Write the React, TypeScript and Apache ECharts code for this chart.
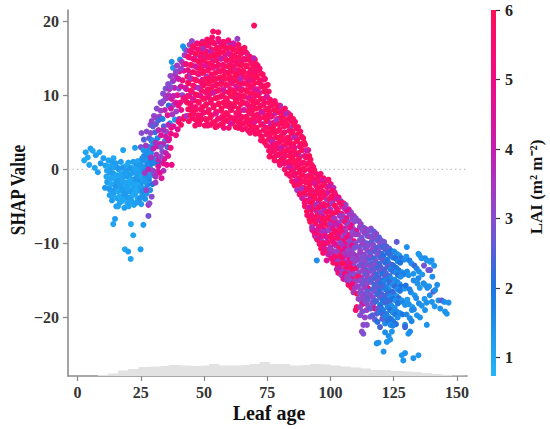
import React, { useEffect, useRef } from 'react';
import * as echarts from 'echarts';

// ---------- axis ticks ----------
const xTicks = [0, 25, 50, 75, 100, 125, 150];
const yTicks = [-20, -10, 0, 10, 20];
const laiTicks = [1, 2, 3, 4, 5, 6];
// colour of LAI = 0,1,2,3,4,5,6
const laiColors = ['#26c0fb', '#20a8f3', '#1c74e0', '#8a4ccf', '#c41daf', '#f00a85', '#ff0f5a'];

// ---------- leaf-age histogram (bin centre, count) ----------
const histCenters = [6, 10, 14, 18, 22, 26, 30, 34, 38, 42, 46, 50, 54, 58, 62, 66, 70, 74, 78, 82, 86, 90, 94, 98, 102, 106, 110, 114, 118, 122, 126, 130, 134, 138, 142, 146, 150, 154];
const histCounts = [0, 5, 12, 28, 35, 45, 48, 50, 55, 52, 50, 52, 60, 52, 52, 55, 60, 70, 60, 60, 52, 55, 60, 58, 52, 48, 42, 38, 30, 30, 25, 22, 20, 15, 10, 6, 2, 0];

// ---------- SHAP points: [leaf age, SHAP value, LAI] ----------
const earlyBlue = [
  [2.6, 1.2, 1.0], [3.2, 2.3, 1.1], [4.0, 1.6, 0.9], [4.6, 0.6, 1.1], [5.1, 2.8, 1.2], [6.0, 2.5, 1.0], [7.2, 1.9, 1.2], [8.6, 2.3, 1.1], [9.1, 0.8, 1.3], [10.2, 1.5, 1.2], [6.8, 0.2, 1.1], [8.0, -0.4, 1.2],
  [11.0, 0.5, 1.2], [11.4, -1.0, 1.0], [10.8, -2.5, 1.3],
  [12.2, 1.2, 1.1], [12.5, -0.3, 1.4], [11.9, -1.8, 1.0], [12.7, -3.5, 1.2],
  [13.1, 0.2, 1.3], [13.4, -1.2, 1.1], [12.9, -2.8, 1.0], [13.6, -4.2, 1.2],
  [14.2, 1.5, 1.0], [14.0, -0.5, 1.2], [14.5, -2.0, 1.1], [14.3, -3.2, 1.3],
  [15.1, 0.8, 1.2], [15.4, -0.8, 1.0], [15.0, -2.3, 1.4], [15.6, -3.9, 1.1], [15.3, -5.0, 1.2],
  [16.2, 0.0, 1.1], [16.5, -1.5, 1.3], [16.0, -2.9, 1.0], [16.7, -4.5, 1.2],
  [17.1, 1.0, 1.2], [17.4, -0.6, 1.0], [17.0, -2.1, 1.1], [17.6, -3.6, 1.3],
  [18.3, 0.3, 1.0], [18.0, -1.1, 1.2], [18.6, -2.6, 1.1], [18.2, -4.0, 1.0], [18.5, -5.2, 1.2], [18.0, 2.6, 1.1],
  [19.2, -0.2, 1.3], [19.5, -1.8, 1.0], [19.0, -3.2, 1.2], [19.7, -4.6, 1.1],
  [20.1, 0.9, 1.1], [20.4, -0.7, 1.2], [20.0, -2.2, 1.0], [20.6, -3.8, 1.3], [20.2, -5.0, 1.1],
  [21.3, 0.2, 1.0], [21.0, -1.3, 1.2], [21.6, -2.7, 1.1], [21.2, -4.2, 1.3],
  [22.4, -0.4, 1.2], [22.1, -1.9, 1.0], [22.7, -3.3, 1.2], [22.3, -4.8, 1.1], [22.7, 2.9, 1.2],
  [23.2, 0.6, 1.3], [23.5, -1.0, 1.1], [23.0, -2.4, 1.2], [23.7, -3.9, 1.0],
  [24.3, 0.0, 1.1], [24.0, -1.5, 1.4], [24.6, -2.9, 1.2], [24.2, -4.4, 1.3],
  [25.1, 1.0, 1.4], [25.4, -0.5, 1.2], [25.0, -2.0, 1.5], [25.6, -3.5, 1.3], [25.2, -4.7, 1.2],
  [26.3, 1.8, 1.6], [26.0, 0.3, 1.3], [26.5, -1.2, 1.5], [26.1, -2.6, 1.2], [26.7, -4.0, 1.4],
  [27.2, 2.4, 1.5], [27.5, 0.9, 1.7], [27.0, -0.6, 1.4], [27.6, -2.1, 1.6], [27.3, -3.3, 1.3],
  [28.4, 3.0, 1.6], [28.1, 1.6, 1.8], [28.6, 0.2, 1.5], [28.2, -1.4, 1.7], [28.7, -2.8, 1.4],
  [29.3, 3.8, 1.7], [29.0, 2.2, 1.6], [29.5, 0.8, 1.8], [29.1, -0.6, 1.5], [29.6, -2.0, 1.9],
  [14.1, -7.4, 1.1], [14.8, -6.7, 1.2], [16.0, -5.0, 1.1], [21.1, -7.4, 1.0], [26.0, -7.5, 1.2], [22.0, -8.9, 1.1],
  [18.7, -10.8, 1.0], [20.0, -11.1, 1.2], [21.0, -12.1, 1.1], [24.9, -10.8, 1.2], [28.0, -6.3, 2.8], [28.0, -4.8, 3.8],
];

const earlyFill = [
  [11.6, -0.2, 1.1], [11.7, -1.7, 1.2], [12.0, 0.4, 1.0], [12.4, -2.6, 1.3], [13.0, -0.5, 1.2], [13.3, -2.0, 1.0], [13.8, -3.5, 1.1], [13.7, 0.9, 1.2],
  [14.6, -1.2, 1.0], [14.8, -2.7, 1.3], [14.7, 0.3, 1.1], [15.7, -1.6, 1.2], [15.8, -3.0, 1.0], [15.9, 0.2, 1.3], [16.8, -0.8, 1.1], [16.9, -2.3, 1.2],
  [16.6, -3.7, 1.0], [17.7, 0.2, 1.3], [17.8, -1.5, 1.1], [17.7, -2.9, 1.2], [17.5, -4.3, 1.0], [18.8, -0.4, 1.2], [18.9, -1.9, 1.1], [18.8, -3.4, 1.3],
  [19.6, 0.6, 1.0], [19.8, -1.0, 1.2], [19.4, -2.5, 1.1], [19.9, -3.9, 1.2], [20.7, 0.1, 1.3], [20.8, -1.5, 1.0], [20.7, -3.0, 1.2], [20.9, -4.4, 1.1],
  [21.7, -0.5, 1.2], [21.8, -2.0, 1.1], [21.8, -3.5, 1.0], [22.0, 1.0, 1.2], [22.9, 0.0, 1.1], [22.8, -1.3, 1.3], [22.9, -2.8, 1.0], [23.3, -4.5, 1.2],
  [23.8, 1.1, 1.1], [23.9, -0.6, 1.2], [23.8, -2.1, 1.0], [24.7, 0.6, 1.3], [24.8, -0.9, 1.1], [24.9, -2.4, 1.2], [24.7, -3.9, 1.4], [25.8, 0.1, 1.3],
  [25.9, -1.5, 1.2], [25.8, -2.9, 1.5], [26.9, 1.3, 1.4], [26.8, -0.2, 1.6], [26.9, -1.7, 1.3], [27.9, 2.2, 1.5], [27.8, 0.5, 1.7], [27.9, -1.0, 1.4],
  [28.9, 2.9, 1.6], [28.9, 1.2, 1.8], [29.8, 1.5, 1.7], [29.9, 3.1, 1.6],
];

const rising = [
  [25.3, 4.9, 3.0], [25.0, 3.0, 2.8], [25.6, 1.5, 1.5],
  [26.2, 4.0, 2.5], [26.5, -0.5, 3.4], [26.0, 2.6, 1.4],
  [27.3, 5.1, 3.0], [27.0, 3.2, 3.5], [27.6, 0.6, 1.6], [27.2, -2.8, 3.2],
  [28.3, 4.2, 2.6], [28.6, 2.0, 1.4], [28.0, 0.0, 3.8], [28.4, -4.6, 3.0], [28.8, 6.0, 3.2],
  [29.3, 6.5, 3.3], [29.6, 3.9, 1.5], [29.0, 1.6, 3.6], [29.4, -0.8, 1.3], [29.3, -3.7, 3.0],
  [30.2, 7.2, 3.1], [30.6, 5.0, 2.2], [30.0, 2.8, 3.9], [30.4, 0.9, 1.7], [30.8, -1.8, 3.4],
  [31.3, 8.2, 3.0], [31.0, 6.1, 2.8], [31.6, 4.2, 1.6], [31.2, 2.0, 3.5], [31.8, -0.3, 4.0],
  [32.4, 7.1, 3.3], [32.0, 5.3, 3.8], [32.6, 3.4, 4.3], [32.2, 1.0, 2.0], [32.8, 9.0, 2.7],
  [33.2, 8.9, 3.2], [33.6, 6.8, 1.8], [33.0, 4.6, 4.5], [33.5, 2.4, 3.0], [33.2, -1.2, 4.4], [33.8, 10.2, 3.0],
  [34.5, 8.0, 4.0], [34.1, 5.8, 2.5], [34.5, 3.8, 1.5], [34.3, 1.4, 4.6], [34.8, 10.9, 2.9],
  [35.2, 9.6, 3.4], [35.6, 7.3, 4.8], [35.0, 5.1, 3.1], [35.5, 3.0, 2.4], [35.3, 0.6, 4.9], [35.8, 11.5, 3.0],
  [36.3, 10.8, 3.6], [36.0, 8.6, 2.2], [36.5, 6.2, 1.4], [36.2, 4.1, 4.5], [36.7, 12.6, 3.2],
  [37.2, 9.5, 4.5], [37.5, 7.4, 3.5], [37.0, 5.6, 5.2], [37.2, 0.6, 5.0], [37.6, 11.9, 2.7], [37.2, 14.5, 1.4],
  [38.3, 11.0, 4.2], [38.0, 8.7, 3.1], [38.5, 6.7, 1.4], [37.7, 13.7, 1.3], [38.6, 12.8, 3.5],
  [39.2, 12.3, 3.8], [39.5, 10.0, 5.0], [39.0, 7.8, 3.3], [39.6, 5.4, 4.7], [39.3, 14.0, 3.4],
  [40.3, 13.2, 4.5], [40.0, 10.9, 3.0], [40.6, 9.0, 5.2], [40.2, 6.8, 4.0], [40.5, 14.8, 1.4],
  [41.2, 14.5, 3.6], [41.5, 12.0, 5.4], [41.0, 8.0, 4.8], [41.7, 16.6, 1.4], [41.4, 10.0, 3.2],
  [42.3, 15.4, 3.4], [42.0, 13.3, 5.0], [42.6, 11.0, 4.2], [42.2, 7.1, 5.5], [42.4, 16.2, 1.5], [42.8, 9.2, 5.6],
  [31.5, 3.1, 4.2], [33.8, 3.4, 3.8], [35.8, 1.8, 4.6], [36.8, 2.9, 5.1], [34.0, -0.2, 3.6], [32.5, -0.5, 4.8], [30.3, -0.6, 3.2],
];

const risingFill = [
  [28.9, 4.9, 3.1], [29.8, 5.8, 2.6], [30.9, 7.0, 3.3], [31.9, 6.6, 2.4], [32.9, 7.9, 3.4], [33.9, 9.2, 3.0], [34.9, 9.8, 3.3], [35.9, 10.0, 3.6],
  [36.9, 11.1, 3.0], [37.9, 12.0, 3.4], [38.9, 13.2, 3.1], [39.9, 12.2, 4.2], [40.9, 13.6, 3.3], [41.9, 14.2, 3.7], [30.9, 3.6, 3.6], [31.9, 1.3, 3.9],
  [32.9, 3.0, 2.9], [33.9, 5.3, 3.6], [34.9, 4.4, 4.2], [35.9, 6.0, 3.8], [36.9, 8.2, 4.3], [37.9, 9.9, 4.0], [38.9, 9.0, 4.6], [39.9, 8.6, 5.1],
  [40.9, 11.2, 4.4], [41.9, 9.6, 5.3], [29.9, -0.2, 3.3], [30.9, -1.0, 3.6], [31.9, 0.4, 4.4], [32.9, 1.7, 3.2], [33.9, 0.8, 4.7], [34.9, 2.2, 4.1],
  [35.9, 3.9, 4.5], [36.9, 4.8, 5.0], [37.9, 5.8, 4.6], [38.9, 4.6, 5.3], [39.9, 6.4, 5.4], [40.9, 6.0, 5.6], [41.9, 6.8, 5.7],
];

const peak = [
  [43.2, 16.0, 3.3], [42.9, 14.2, 5.2], [43.4, 12.5, 5.6], [43.0, 10.8, 4.4], [43.3, 9.0, 5.8], [43.1, 7.2, 3.6],
  [44.1, 15.1, 4.8], [44.4, 13.0, 3.6], [43.8, 11.6, 5.9], [44.2, 9.9, 5.1], [44.5, 8.1, 4.2], [44.0, 6.5, 5.7], [44.3, 16.8, 3.1],
  [45.2, 17.3, 3.2], [44.9, 15.8, 5.5], [45.4, 14.0, 4.0], [45.1, 12.2, 5.8], [45.3, 10.4, 3.8], [44.8, 8.6, 5.3], [45.5, 6.9, 5.9],
  [46.0, 16.4, 4.6], [46.3, 14.8, 5.9], [45.8, 13.1, 5.2], [46.4, 11.1, 4.9], [46.1, 9.3, 5.7], [45.9, 7.5, 4.4], [46.5, 5.9, 5.8],
  [47.2, 17.0, 5.1], [46.8, 15.4, 3.5], [47.4, 13.7, 5.7], [47.0, 12.0, 6.0], [47.3, 10.0, 5.4], [46.9, 8.1, 5.9], [47.5, 6.4, 4.7],
  [48.1, 16.1, 5.6], [48.4, 14.4, 5.0], [47.9, 12.8, 3.7], [48.3, 11.0, 5.8], [48.0, 9.0, 5.2], [48.5, 7.2, 5.9], [48.2, 6.1, 5.5],
  [49.3, 17.2, 4.3], [48.9, 15.6, 5.8], [49.2, 13.9, 5.5], [49.4, 12.1, 4.5], [49.0, 10.6, 5.9], [49.3, 8.4, 6.0], [48.8, 6.8, 5.1],
  [50.1, 16.6, 5.4], [50.4, 15.0, 3.8], [49.9, 13.2, 5.9], [50.2, 11.5, 5.6], [50.5, 9.6, 5.9], [50.0, 7.7, 4.6], [50.3, 5.9, 6.0],
  [51.2, 17.5, 5.7], [50.9, 15.9, 5.2], [51.3, 14.3, 5.9], [51.0, 12.5, 3.5], [51.4, 10.8, 5.7], [50.8, 8.8, 5.4], [51.1, 6.6, 5.9],
  [52.0, 16.9, 3.6], [52.3, 15.2, 5.9], [51.8, 13.6, 5.3], [52.4, 11.9, 5.8], [52.1, 10.1, 5.9], [51.9, 8.0, 5.5], [52.5, 6.0, 5.8],
  [53.2, 17.8, 5.5], [52.9, 16.2, 5.8], [53.4, 14.6, 4.2], [53.0, 12.8, 5.9], [53.3, 11.2, 5.3], [52.8, 9.4, 6.0], [53.1, 7.3, 5.7], [53.6, 18.6, 5.6],
  [54.1, 17.0, 5.9], [54.4, 15.5, 5.4], [53.9, 13.9, 5.8], [54.2, 12.2, 4.8], [54.5, 10.5, 5.9], [54.0, 8.6, 5.1], [54.3, 6.4, 5.9],
  [55.2, 16.4, 5.1], [54.9, 14.7, 5.9], [55.3, 13.2, 3.9], [55.0, 11.5, 5.7], [55.4, 9.7, 5.9], [54.8, 7.8, 5.8], [55.1, 5.8, 4.6], [55.6, 18.5, 5.7],
  [56.0, 17.2, 4.6], [56.3, 15.8, 5.7], [55.8, 14.1, 5.9], [56.4, 12.4, 5.5], [56.1, 10.7, 6.0], [55.9, 8.9, 5.9], [56.5, 6.9, 5.6],
  [57.2, 16.6, 5.8], [56.8, 15.0, 5.2], [57.4, 13.4, 5.9], [57.0, 11.8, 4.3], [57.3, 10.0, 5.8], [56.9, 8.2, 6.0], [57.5, 6.2, 5.7],
  [58.1, 17.1, 5.5], [58.4, 15.5, 4.5], [57.9, 13.9, 5.7], [58.3, 12.2, 5.9], [58.0, 10.5, 5.3], [58.5, 8.6, 5.8], [58.2, 6.7, 5.9], [57.8, 5.6, 5.2],
  [59.3, 16.3, 5.9], [58.9, 14.7, 5.6], [59.2, 13.0, 5.9], [59.4, 11.3, 3.6], [59.0, 9.4, 5.9], [59.3, 7.4, 5.5],
  [60.1, 17.0, 3.4], [60.4, 15.5, 5.9], [59.9, 14.0, 5.4], [60.2, 12.5, 5.9], [60.5, 10.8, 5.7], [60.0, 8.9, 6.0], [60.3, 7.0, 5.8], [59.8, 5.6, 5.6],
  [61.2, 16.2, 5.6], [60.9, 14.6, 5.2], [61.3, 13.2, 5.9], [61.0, 11.6, 5.6], [61.4, 9.8, 4.4], [60.8, 8.0, 5.9], [61.1, 6.2, 5.4],
  [62.0, 16.8, 5.2], [62.3, 15.2, 5.8], [61.8, 13.7, 3.7], [62.4, 12.0, 5.9], [62.1, 10.3, 5.9], [61.9, 8.5, 5.7], [62.5, 6.6, 6.0],
  [63.2, 17.6, 3.3], [62.9, 15.9, 5.5], [63.4, 14.2, 5.9], [63.0, 12.6, 5.4], [63.3, 10.9, 5.8], [62.8, 9.1, 6.0], [63.1, 7.2, 5.3], [63.5, 5.6, 5.9],
  [64.1, 16.3, 5.9], [64.4, 14.7, 4.0], [63.9, 13.0, 5.7], [64.2, 11.4, 5.9], [64.5, 9.6, 5.6], [64.0, 7.8, 5.9], [64.3, 6.0, 5.7],
  [65.2, 15.8, 5.4], [64.9, 14.2, 5.9], [65.3, 12.5, 5.6], [65.0, 10.8, 4.2], [65.4, 9.0, 5.9], [64.8, 7.1, 5.8], [65.1, 5.4, 5.5],
  [66.0, 16.4, 5.7], [66.3, 14.8, 5.2], [65.8, 13.1, 5.9], [66.4, 11.6, 5.7], [66.1, 9.8, 5.8], [65.9, 8.0, 3.6], [66.5, 6.3, 5.9],
  [67.2, 15.5, 3.7], [66.8, 13.9, 5.8], [67.4, 12.2, 5.5], [67.0, 10.5, 5.9], [67.3, 8.7, 5.6], [66.9, 6.9, 5.8], [67.5, 5.2, 6.0],
  [68.1, 15.2, 5.8], [68.4, 13.5, 5.6], [67.9, 11.9, 4.5], [68.3, 10.2, 5.9], [68.0, 8.4, 5.4], [68.5, 6.6, 5.9], [68.2, 4.9, 5.7],
  [69.3, 14.6, 5.4], [68.9, 12.9, 5.9], [69.2, 11.2, 5.7], [69.4, 9.6, 3.8], [69.0, 7.9, 5.9], [69.3, 6.1, 5.5], [69.8, 19.4, 5.8],
  [70.1, 14.8, 5.6], [70.4, 13.2, 5.3], [69.9, 11.6, 5.9], [70.2, 9.9, 5.7], [70.5, 8.2, 5.9], [70.0, 6.4, 4.6], [70.3, 4.8, 5.8],
  [71.2, 14.0, 5.9], [70.9, 12.4, 5.6], [71.3, 10.8, 5.9], [71.0, 9.1, 5.3], [71.4, 7.4, 5.8], [70.8, 5.6, 5.9],
  [72.0, 13.6, 5.2], [72.3, 12.0, 5.8], [71.8, 10.3, 4.0], [72.4, 8.6, 5.9], [72.1, 6.9, 5.6], [71.9, 5.0, 5.8], [72.5, 3.9, 5.5],
  [73.2, 12.8, 5.7], [72.9, 11.2, 5.9], [73.4, 9.5, 5.5], [73.0, 7.8, 5.8], [73.3, 6.1, 3.7], [72.8, 4.4, 5.9],
  [74.1, 12.2, 5.5], [74.4, 10.6, 5.9], [73.9, 9.0, 5.6], [74.2, 7.3, 5.9], [74.5, 5.6, 5.4], [74.0, 3.6, 5.8],
  [75.2, 11.4, 5.8], [74.9, 9.8, 5.2], [75.3, 8.2, 5.9], [75.0, 6.6, 5.7], [75.4, 4.9, 5.9], [74.8, 3.2, 5.5],
];

const peakFill = [
  [43.6, 15.2, 5.7], [43.6, 13.4, 4.9], [43.7, 11.7, 5.8], [43.5, 9.9, 5.5], [43.7, 8.1, 5.9],
  [44.6, 16.0, 5.4], [44.7, 14.1, 5.9], [44.5, 12.3, 3.7], [44.7, 10.6, 5.8], [44.6, 8.9, 5.6], [44.7, 7.3, 5.9],
  [45.6, 16.6, 5.8], [45.7, 14.9, 5.3], [45.5, 13.1, 5.9], [45.7, 11.3, 5.6], [45.6, 9.5, 4.6], [45.7, 7.8, 5.9],
  [46.6, 15.6, 5.9], [46.7, 13.9, 4.4], [46.5, 12.1, 5.7], [46.7, 10.1, 5.9], [46.6, 8.4, 5.5], [46.7, 6.7, 5.8],
  [47.6, 16.2, 5.6], [47.7, 14.6, 5.9], [47.5, 12.9, 5.4], [47.7, 11.0, 3.6], [47.6, 9.1, 5.9], [47.7, 7.3, 5.7],
  [48.6, 16.9, 5.9], [48.7, 15.2, 5.5], [48.5, 13.6, 5.9], [48.7, 11.8, 5.7], [48.6, 9.9, 4.9], [48.7, 8.1, 5.8], [48.5, 6.6, 5.9],
  [49.6, 16.3, 3.8], [49.7, 14.7, 5.7], [49.5, 13.0, 5.9], [49.7, 11.3, 5.6], [49.6, 9.5, 5.9], [49.7, 7.6, 5.4],
  [50.6, 17.0, 5.9], [50.7, 15.6, 5.6], [50.5, 14.0, 4.7], [50.7, 12.2, 5.9], [50.6, 10.4, 5.5], [50.7, 8.6, 5.9], [50.5, 6.8, 5.7],
  [51.6, 16.7, 5.5], [51.7, 15.1, 5.9], [51.5, 13.3, 5.7], [51.7, 11.6, 5.9], [51.6, 9.7, 5.3], [51.7, 7.7, 5.9], [51.5, 5.9, 5.5],
  [52.6, 17.4, 5.8], [52.7, 15.9, 4.0], [52.5, 14.3, 5.9], [52.7, 12.5, 5.5], [52.6, 10.8, 5.9], [52.7, 9.0, 5.7], [52.5, 7.0, 5.9],
  [53.6, 17.1, 5.7], [53.7, 15.4, 5.9], [53.5, 13.7, 5.5], [53.7, 12.0, 5.9], [53.6, 10.3, 4.3], [53.7, 8.4, 5.8], [53.5, 6.3, 5.9],
  [54.6, 16.2, 5.9], [54.7, 14.8, 5.7], [54.5, 13.0, 5.9], [54.7, 11.3, 5.6], [54.6, 9.6, 5.9], [54.7, 7.5, 4.8], [54.5, 5.7, 5.8],
  [55.6, 17.6, 5.3], [55.7, 15.5, 5.9], [55.5, 13.9, 5.6], [55.7, 12.3, 5.9], [55.6, 10.6, 5.7], [55.7, 8.8, 5.9], [55.5, 6.8, 5.5],
  [56.6, 16.5, 5.9], [56.7, 14.9, 4.1], [56.5, 13.2, 5.8], [56.7, 11.5, 5.9], [56.6, 9.8, 5.6], [56.7, 7.9, 5.8], [56.5, 6.0, 5.9],
  [57.6, 17.2, 5.6], [57.7, 15.8, 5.9], [57.5, 14.1, 5.5], [57.7, 12.5, 5.9], [57.6, 10.8, 4.5], [57.7, 9.0, 5.9], [57.5, 7.2, 5.7],
  [58.6, 16.4, 5.8], [58.7, 14.8, 5.9], [58.5, 13.1, 5.6], [58.7, 11.4, 5.9], [58.6, 9.6, 5.7], [58.7, 7.6, 5.9],
  [59.6, 17.4, 5.5], [59.7, 15.6, 4.6], [59.5, 13.9, 5.9], [59.7, 12.2, 5.8], [59.6, 10.4, 5.9], [59.7, 8.5, 5.6], [59.5, 6.5, 5.9],
  [60.6, 16.5, 5.9], [60.7, 14.8, 5.7], [60.5, 13.3, 5.9], [60.7, 11.7, 5.4], [60.6, 9.9, 5.9], [60.7, 8.0, 5.8], [60.5, 6.2, 4.6],
  [61.6, 17.0, 4.2], [61.7, 15.4, 5.9], [61.5, 13.9, 5.6], [61.7, 12.3, 5.9], [61.6, 10.6, 5.8], [61.7, 8.8, 5.9], [61.5, 6.9, 5.7],
  [62.6, 16.1, 5.9], [62.7, 14.5, 5.6], [62.5, 12.9, 5.9], [62.7, 11.2, 4.6], [62.6, 9.4, 5.9], [62.7, 7.6, 5.5], [62.5, 5.7, 5.9],
  [63.6, 16.8, 5.7], [63.7, 15.1, 5.9], [63.5, 13.4, 5.5], [63.7, 11.8, 5.9], [63.6, 10.0, 5.6], [63.7, 8.2, 5.9], [63.5, 6.4, 5.8],
  [64.6, 15.6, 5.8], [64.7, 14.0, 5.9], [64.5, 12.2, 3.9], [64.7, 10.6, 5.7], [64.6, 8.8, 5.9], [64.7, 6.9, 5.6],
  [65.6, 16.2, 5.9], [65.7, 14.9, 5.5], [65.5, 13.3, 5.9], [65.7, 11.6, 5.7], [65.6, 9.9, 5.9], [65.7, 8.0, 4.4], [65.5, 6.2, 5.8],
  [66.6, 15.8, 5.6], [66.7, 14.0, 5.9], [66.5, 12.4, 5.7], [66.7, 10.7, 5.9], [66.6, 8.9, 5.5], [66.7, 7.1, 5.9], [66.5, 5.5, 5.7],
  [67.6, 14.8, 5.9], [67.7, 13.0, 5.6], [67.5, 11.4, 5.9], [67.7, 9.6, 4.7], [67.6, 7.8, 5.9], [67.7, 6.1, 5.6],
  [68.6, 14.3, 5.7], [68.7, 12.7, 5.9], [68.5, 11.0, 5.5], [68.7, 9.3, 5.9], [68.6, 7.5, 5.7], [68.7, 5.8, 5.9],
  [69.6, 15.0, 3.9], [69.7, 13.8, 5.9], [69.5, 12.1, 5.6], [69.7, 10.4, 5.9], [69.6, 8.7, 5.8], [69.7, 6.9, 5.9], [69.5, 5.3, 5.6],
  [70.6, 14.2, 5.8], [70.7, 12.6, 5.9], [70.5, 10.8, 4.5], [70.7, 9.1, 5.9], [70.6, 7.3, 5.7], [70.7, 5.6, 5.9],
  [71.6, 13.4, 5.6], [71.7, 11.7, 5.9], [71.5, 10.0, 5.7], [71.7, 8.3, 5.9], [71.6, 6.6, 5.5], [71.7, 4.8, 5.8],
  [72.6, 12.9, 5.9], [72.7, 11.3, 5.6], [72.5, 9.5, 5.9], [72.7, 7.7, 4.2], [72.6, 6.0, 5.8], [72.7, 4.4, 5.9],
  [73.6, 12.1, 5.5], [73.7, 10.5, 5.9], [73.5, 8.7, 5.6], [73.7, 7.0, 5.9], [73.6, 5.3, 5.7], [73.7, 3.8, 5.9],
  [74.6, 11.3, 5.9], [74.7, 9.8, 4.6], [74.5, 8.1, 5.8], [74.7, 6.5, 5.9], [74.6, 4.7, 5.6],
  [75.6, 10.5, 5.7], [75.7, 9.0, 5.9], [75.5, 7.3, 5.6], [75.7, 5.6, 5.9], [75.6, 4.0, 5.8], [75.7, 2.5, 5.6],
];

const decline = [
  [76.1, 9.4, 5.7], [75.8, 7.8, 5.9], [76.3, 6.2, 4.0], [76.0, 4.6, 5.8], [76.4, 3.0, 5.5], [75.9, 1.7, 5.9],
  [77.2, 8.8, 5.9], [76.9, 7.2, 5.6], [77.3, 5.6, 5.9], [77.0, 4.0, 5.4], [77.4, 2.4, 3.6],
  [78.0, 9.2, 5.5], [78.3, 7.6, 4.2], [77.8, 6.0, 5.8], [78.4, 4.3, 5.9], [78.1, 2.7, 5.7], [77.9, 1.2, 5.6],
  [79.2, 8.4, 5.8], [78.9, 6.8, 5.9], [79.3, 5.2, 5.4], [79.0, 3.5, 5.9], [79.4, 1.9, 4.5],
  [80.1, 8.6, 3.7], [80.4, 7.0, 5.6], [79.9, 5.4, 5.9], [80.2, 3.8, 5.8], [80.5, 2.2, 5.9], [80.0, 0.6, 5.5],
  [81.2, 8.0, 5.9], [80.9, 6.4, 5.7], [81.3, 4.8, 3.6], [81.0, 3.1, 5.9], [81.4, 1.5, 5.6],
  [82.0, 8.2, 5.6], [82.3, 6.6, 5.9], [81.8, 5.0, 5.5], [82.4, 3.4, 5.8], [82.1, 1.8, 5.4], [81.9, 0.0, 5.8],
  [83.2, 7.6, 5.4], [82.9, 6.0, 5.8], [83.3, 4.3, 5.9], [83.0, 2.7, 4.1], [83.4, 1.0, 5.9],
  [84.1, 7.3, 5.8], [84.4, 5.7, 3.4], [83.9, 4.0, 5.9], [84.2, 2.3, 5.6], [84.5, 0.6, 5.8], [84.0, -0.9, 5.5],
  [85.2, 6.8, 5.9], [84.9, 5.1, 5.5], [85.3, 3.4, 5.9], [85.0, 1.7, 5.7], [85.4, 0.0, 3.8], [84.8, -1.6, 5.9],
  [86.0, 6.4, 5.6], [86.3, 4.6, 5.9], [85.8, 2.9, 4.6], [86.4, 1.1, 5.8], [86.1, -0.6, 5.9], [85.9, -2.2, 5.4],
  [87.2, 5.7, 5.9], [86.9, 4.0, 5.7], [87.3, 2.2, 5.9], [87.0, 0.5, 5.5], [87.4, -1.2, 5.8], [86.8, -2.8, 3.6],
  [88.1, 5.1, 5.4], [88.4, 3.4, 5.9], [87.9, 1.7, 3.7], [88.2, 0.0, 5.8], [88.5, -1.7, 5.7], [88.0, -3.3, 5.9],
  [89.2, 4.2, 5.8], [88.9, 2.6, 5.6], [89.3, 0.9, 5.9], [89.0, -0.8, 5.4], [89.4, -2.5, 5.9], [88.8, -3.9, 4.4],
  [90.0, 3.3, 5.7], [90.3, 1.6, 5.9], [89.8, -0.1, 5.5], [90.4, -1.8, 5.8], [90.1, -3.4, 3.6], [89.9, -5.0, 5.6],
  [91.2, 2.6, 5.5], [90.9, 0.8, 3.5], [91.3, -0.9, 5.9], [91.0, -2.6, 5.6], [91.4, -4.3, 5.8], [90.8, -6.2, 5.4],
  [92.1, 1.3, 5.8], [92.4, -0.4, 5.5], [91.9, -2.1, 5.9], [92.2, -3.8, 4.5], [92.5, -5.5, 5.7], [92.0, -7.1, 5.9],
  [93.2, 0.3, 5.6], [92.9, -1.4, 5.9], [93.3, -3.1, 3.4], [93.0, -4.8, 5.8], [93.4, -6.5, 5.5], [92.8, -8.2, 4.8],
  [94.0, -0.5, 5.4], [94.3, -2.2, 5.8], [93.8, -3.9, 5.9], [94.4, -5.6, 3.8], [94.1, -7.3, 5.6], [93.9, -9.0, 4.6], [94.5, -9.3, 3.5],
  [95.2, -0.9, 5.8], [94.9, -2.7, 5.5], [95.3, -4.4, 4.2], [95.0, -6.1, 5.9], [95.4, -7.8, 5.4], [94.8, -9.5, 5.6], [94.6, -12.3, 1.5],
  [96.1, -0.6, 5.5], [96.4, -2.3, 5.8], [95.9, -4.0, 5.9], [96.2, -5.8, 3.6], [96.5, -7.5, 5.7], [96.0, -9.2, 4.4], [96.3, -10.7, 5.9],
  [97.2, -1.2, 5.9], [96.9, -3.0, 5.5], [97.3, -4.7, 5.8], [97.0, -6.4, 4.6], [97.4, -8.1, 5.4], [96.8, -9.8, 3.4], [97.1, -11.3, 5.6],
  [98.0, -1.6, 3.5], [98.3, -3.3, 5.6], [97.8, -5.0, 5.9], [98.4, -6.7, 5.4], [98.1, -8.4, 3.7], [97.9, -10.0, 5.8], [98.5, -12.3, 4.6],
  [99.2, -1.4, 5.7], [98.9, -3.1, 4.4], [99.3, -4.8, 5.6], [99.0, -6.5, 5.9], [99.4, -8.2, 3.2], [98.8, -9.9, 5.3], [99.1, -11.5, 4.0],
  [100.1, -2.0, 5.4], [100.4, -3.7, 5.8], [99.9, -5.4, 3.5], [100.2, -7.1, 5.5], [100.5, -8.8, 5.9], [100.0, -10.5, 3.8], [100.3, -12.0, 5.2],
  [101.2, -2.5, 3.8], [100.9, -4.2, 5.5], [101.3, -5.9, 5.8], [101.0, -7.6, 4.1], [101.4, -9.3, 5.5], [100.8, -11.0, 3.4], [101.1, -12.6, 5.6],
  [102.0, -3.5, 5.6], [102.3, -5.2, 3.6], [101.8, -6.9, 5.6], [102.4, -8.6, 5.8], [102.1, -10.3, 3.5], [101.9, -12.0, 5.1], [102.5, -13.5, 3.9],
  [103.2, -3.8, 5.2], [102.9, -5.5, 5.5], [103.3, -7.2, 3.5], [103.0, -8.9, 4.6], [103.4, -10.6, 5.7], [102.8, -12.3, 3.3], [103.1, -14.0, 5.4],
  [104.1, -4.3, 3.4], [104.4, -6.0, 5.4], [103.9, -7.7, 5.6], [104.2, -9.4, 3.4], [104.5, -11.1, 5.5], [104.0, -12.8, 4.0], [104.3, -14.3, 3.3],
  [105.2, -4.6, 5.5], [104.9, -6.3, 3.3], [105.3, -8.0, 4.8], [105.0, -9.7, 5.6], [105.4, -11.4, 3.5], [104.8, -12.7, 5.9], [105.1, -14.8, 4.6],
  [106.0, -4.8, 3.2], [106.3, -6.6, 5.2], [105.8, -8.3, 3.4], [106.4, -10.0, 5.3], [106.1, -11.7, 3.6], [105.9, -13.4, 5.6], [106.5, -15.0, 3.4],
  [107.2, -5.4, 4.6], [106.9, -7.1, 3.3], [107.3, -8.8, 5.4], [107.0, -10.5, 3.2], [107.4, -12.2, 5.0], [106.8, -13.9, 3.5], [107.1, -15.6, 5.7],
  [108.1, -5.8, 3.3], [108.4, -7.5, 5.0], [107.9, -9.2, 3.6], [108.2, -10.9, 3.2], [108.5, -12.6, 5.4], [108.0, -14.3, 3.1], [108.3, -16.0, 5.8],
  [109.2, -6.3, 3.4], [108.9, -8.0, 3.2], [109.3, -9.7, 5.2], [109.0, -11.4, 3.3], [109.4, -13.1, 3.0], [108.8, -14.8, 5.6], [109.1, -16.6, 3.5],
  [110.0, -6.6, 3.0], [110.3, -8.3, 4.8], [109.8, -10.0, 3.1], [110.4, -11.7, 3.4], [110.1, -13.4, 5.5], [109.9, -15.1, 3.2], [110.5, -16.8, 5.9], [110.4, -18.6, 5.8],
];

const declineFill = [
  [76.6, 8.6, 5.8], [76.5, 7.1, 5.5], [76.7, 5.2, 5.9], [76.8, 3.7, 3.9], [76.5, 2.3, 5.7],
  [77.7, 8.0, 5.9], [77.6, 6.3, 5.7], [77.8, 4.9, 5.9], [77.5, 3.3, 5.6], [77.7, 1.6, 5.9],
  [78.7, 8.7, 5.8], [78.6, 6.6, 3.6], [78.8, 5.1, 5.9], [78.6, 3.4, 5.5], [78.8, 2.0, 5.8],
  [79.7, 7.7, 5.9], [79.6, 6.1, 5.7], [79.8, 4.3, 5.9], [79.5, 2.8, 5.6], [79.7, 1.0, 5.8],
  [80.7, 7.8, 5.5], [80.6, 6.2, 5.9], [80.8, 4.6, 5.8], [80.5, 2.9, 4.3], [80.7, 1.3, 5.9],
  [81.6, 7.3, 5.9], [81.7, 5.8, 5.6], [81.5, 4.0, 5.9], [81.7, 2.4, 5.7], [81.6, 0.8, 5.4],
  [82.6, 7.5, 3.8], [82.8, 5.9, 5.9], [82.5, 4.1, 5.7], [82.7, 2.5, 5.9], [82.6, 0.9, 5.6], [82.8, -0.6, 5.8],
  [83.6, 6.8, 5.9], [83.7, 5.2, 5.6], [83.5, 3.6, 5.8], [83.8, 1.8, 5.9], [83.6, 0.3, 4.4],
  [84.6, 6.5, 5.7], [84.7, 4.8, 5.9], [84.5, 3.1, 5.6], [84.8, 1.4, 5.9], [84.6, -0.2, 5.7],
  [85.6, 6.0, 5.9], [85.7, 4.3, 3.9], [85.5, 2.5, 5.8], [85.8, 0.9, 5.9], [85.6, -0.8, 5.5], [85.7, -2.0, 5.8],
  [86.6, 5.5, 5.8], [86.7, 3.8, 5.9], [86.5, 2.0, 5.6], [86.7, 0.3, 5.9], [86.6, -1.5, 4.6],
  [87.6, 4.9, 5.9], [87.8, 3.1, 5.6], [87.5, 1.4, 5.9], [87.7, -0.4, 5.8], [87.6, -2.1, 5.9], [87.8, -3.4, 5.6],
  [88.6, 4.4, 5.7], [88.7, 2.6, 5.9], [88.5, 0.8, 5.5], [88.7, -0.9, 5.9], [88.6, -2.6, 3.7],
  [89.6, 3.6, 5.9], [89.8, 1.8, 5.4], [89.5, 0.1, 5.9], [89.7, -1.6, 5.7], [89.6, -3.2, 5.9], [89.8, -4.5, 5.6],
  [90.6, 2.5, 4.2], [90.7, 0.7, 5.9], [90.5, -1.0, 5.7], [90.8, -2.7, 5.9], [90.6, -4.2, 5.5], [90.7, -5.7, 5.9],
  [91.6, 1.8, 5.9], [91.7, 0.0, 5.6], [91.5, -1.7, 5.9], [91.8, -3.4, 5.8], [91.6, -5.1, 4.4], [91.7, -6.7, 5.9],
  [92.6, 0.6, 5.7], [92.7, -1.1, 5.9], [92.5, -2.8, 5.6], [92.8, -4.5, 5.9], [92.6, -6.2, 5.4], [92.7, -7.8, 3.8],
  [93.6, -0.1, 5.9], [93.7, -1.8, 4.5], [93.5, -3.6, 5.9], [93.8, -5.2, 5.6], [93.6, -7.0, 5.9], [93.7, -8.6, 5.3],
  [94.6, -1.3, 5.6], [94.7, -3.1, 5.9], [94.5, -4.8, 3.6], [94.8, -6.5, 5.8], [94.6, -8.2, 4.6],
  [95.6, -1.6, 5.9], [95.7, -3.4, 5.6], [95.5, -5.1, 5.9], [95.8, -6.9, 4.2], [95.6, -8.6, 5.7], [95.7, -10.1, 5.4],
  [96.6, -1.5, 4.6], [96.7, -3.2, 5.9], [96.5, -5.0, 5.4], [96.8, -6.7, 5.9], [96.6, -8.4, 3.6], [96.7, -10.0, 5.6],
  [97.6, -2.0, 5.7], [97.7, -3.8, 5.5], [97.5, -5.6, 3.8], [97.8, -7.3, 5.9], [97.6, -9.0, 5.3], [97.7, -10.7, 4.4],
  [98.6, -2.4, 5.8], [98.7, -4.1, 3.6], [98.5, -5.8, 5.7], [98.8, -7.5, 5.9], [98.6, -9.2, 4.1], [98.7, -10.9, 5.6],
  [99.6, -2.3, 4.2], [99.7, -4.0, 5.8], [99.5, -5.7, 5.5], [99.8, -7.4, 3.7], [99.6, -9.1, 5.8], [99.7, -10.8, 3.5],
  [100.6, -2.9, 5.9], [100.7, -4.6, 3.4], [100.5, -6.3, 5.8], [100.8, -8.0, 4.6], [100.6, -9.7, 5.6], [100.7, -11.3, 3.6],
  [101.6, -3.1, 5.5], [101.7, -4.9, 5.9], [101.5, -6.6, 3.5], [101.8, -8.3, 5.6], [101.6, -10.0, 4.8], [101.7, -11.8, 5.4],
  [102.6, -4.0, 4.4], [102.7, -5.8, 5.8], [102.5, -7.5, 4.0], [102.8, -9.3, 5.6], [102.6, -11.1, 3.4], [102.7, -12.9, 5.7],
  [103.6, -4.5, 5.6], [103.7, -6.3, 3.6], [103.5, -8.1, 5.5], [103.8, -9.9, 3.4], [103.6, -11.7, 5.7], [103.7, -13.3, 4.0],
  [104.6, -5.0, 5.3], [104.7, -6.8, 3.4], [104.5, -8.5, 5.6], [104.8, -10.3, 3.6], [104.6, -12.0, 5.2], [104.7, -13.8, 3.3],
  [105.6, -5.3, 3.6], [105.7, -7.1, 5.4], [105.5, -8.9, 3.3], [105.8, -10.7, 4.9], [105.6, -12.5, 3.5], [105.7, -14.1, 5.4],
  [106.6, -5.7, 5.0], [106.7, -7.5, 3.3], [106.5, -9.2, 5.1], [106.8, -11.0, 3.2], [106.6, -12.8, 4.6], [106.7, -14.5, 3.3],
  [107.6, -6.1, 3.4], [107.7, -7.9, 4.9], [107.5, -9.7, 3.1], [107.8, -11.5, 3.4], [107.6, -13.2, 5.3], [107.7, -15.0, 3.1],
  [108.6, -6.7, 3.2], [108.7, -8.5, 3.0], [108.5, -10.3, 4.8], [108.8, -12.1, 3.1], [108.6, -13.8, 3.3], [108.7, -15.5, 5.2],
  [109.6, -7.0, 3.0], [109.7, -8.8, 3.3], [109.5, -10.6, 2.9], [109.8, -12.4, 3.2], [109.6, -14.2, 3.0], [109.7, -16.0, 3.4],
];

const tail = [
  [111.2, -7.0, 3.1], [110.9, -8.8, 3.4], [111.3, -10.5, 2.8], [111.0, -12.2, 3.3], [111.4, -13.9, 3.0], [111.0, -14.5, 5.8], [110.8, -15.8, 3.4], [111.1, -17.5, 3.2], [111.7, -19.7, 3.0],
  [112.0, -7.4, 3.3], [112.3, -9.2, 2.9], [111.8, -11.0, 3.2], [112.4, -12.7, 2.7], [112.1, -14.6, 3.4], [111.9, -16.3, 3.0], [112.5, -18.0, 2.8], [112.4, -21.9, 3.0],
  [113.2, -7.9, 2.7], [112.9, -9.7, 3.2], [113.3, -11.5, 2.8], [113.0, -13.2, 3.3], [113.4, -15.0, 2.6], [112.8, -16.8, 3.2], [113.0, -18.1, 4.8], [113.0, -21.0, 3.1], [113.0, -22.2, 2.9],
  [114.1, -8.1, 3.4], [114.4, -10.0, 2.6], [113.9, -11.8, 3.0], [114.2, -13.6, 2.5], [114.5, -15.4, 3.1], [114.0, -17.2, 2.7], [114.3, -19.0, 3.2], [114.4, -21.0, 3.0],
  [115.2, -8.3, 2.8], [114.9, -10.3, 3.1], [115.3, -12.1, 2.4], [115.0, -13.9, 3.2], [115.0, -16.1, 5.2], [114.8, -17.6, 2.6], [115.7, -19.9, 2.9],
  [116.0, -8.0, 3.0], [116.3, -9.8, 2.5], [115.8, -11.6, 3.2], [116.4, -13.4, 2.4], [116.1, -15.2, 2.9], [115.9, -17.0, 2.3], [116.5, -18.7, 3.1],
  [117.2, -8.4, 2.6], [116.9, -10.2, 3.0], [117.3, -12.0, 2.3], [117.0, -13.8, 2.8], [117.4, -15.6, 2.4], [116.8, -17.3, 3.0], [117.0, -18.1, 3.2], [117.6, -18.8, 5.0],
  [118.1, -8.7, 3.2], [118.4, -10.6, 2.4], [117.9, -12.4, 2.8], [118.2, -14.2, 2.2], [118.5, -16.0, 2.7], [118.0, -17.8, 2.1], [118.3, -19.5, 2.6], [118.3, -23.5, 1.5],
  [119.2, -9.2, 2.5], [118.9, -11.0, 2.9], [119.3, -12.8, 2.1], [119.0, -14.6, 2.6], [119.4, -16.4, 2.0], [119.6, -18.3, 1.8], [119.0, -23.4, 1.4],
  [120.0, -9.6, 2.9], [120.3, -11.4, 2.2], [119.8, -13.2, 2.6], [120.4, -15.0, 1.9], [120.1, -16.8, 2.5], [119.9, -18.6, 2.0], [120.5, -20.2, 2.7],
  [121.2, -9.8, 2.8], [120.9, -11.7, 2.0], [121.3, -13.5, 2.4], [121.0, -15.3, 1.7], [121.4, -17.1, 2.3], [120.8, -19.0, 1.8], [121.6, -20.8, 1.6], [121.0, -24.6, 1.4],
  [122.1, -10.4, 2.4], [122.4, -12.2, 1.9], [121.9, -14.0, 2.5], [122.2, -15.8, 1.6], [122.5, -17.6, 2.2], [122.0, -19.5, 1.7], [122.3, -23.3, 1.3],
  [123.2, -10.7, 2.7], [122.9, -12.6, 1.8], [123.3, -14.4, 2.2], [123.0, -16.2, 1.5], [123.4, -18.0, 2.4], [122.8, -19.9, 1.6], [123.6, -20.8, 1.4], [123.0, -22.5, 1.5], [123.6, -23.0, 1.3],
  [124.0, -11.0, 2.0], [124.3, -12.9, 2.5], [123.8, -14.7, 1.6], [124.4, -16.5, 2.1], [124.1, -18.4, 1.5], [123.9, -20.2, 2.0], [124.3, -21.9, 1.4],
  [125.2, -11.1, 1.6], [124.9, -13.0, 2.2], [125.3, -14.9, 1.5], [125.0, -16.8, 2.3], [125.4, -18.7, 1.4], [124.8, -20.5, 1.9],
  [126.2, -11.4, 1.5], [126.0, -13.3, 2.0], [126.4, -15.2, 1.7], [126.1, -17.1, 1.4], [126.2, -19.2, 1.6], [125.9, -20.9, 2.1], [126.2, -9.8, 2.6],
  [127.2, -11.6, 1.4], [126.9, -13.6, 1.9], [127.3, -15.5, 1.4], [127.0, -17.4, 2.2], [127.4, -19.4, 1.5],
  [128.1, -12.0, 2.1], [128.4, -13.9, 1.5], [127.9, -15.8, 2.0], [128.2, -17.7, 1.4], [128.5, -19.6, 1.9], [128.2, -25.1, 1.3],
  [129.2, -12.2, 1.5], [128.9, -14.2, 1.8], [129.3, -16.1, 1.3], [129.0, -18.0, 1.7], [129.5, -18.3, 1.4], [129.5, -21.0, 1.5], [128.8, -25.8, 1.3], [129.5, -24.8, 1.4],
  [130.0, -11.8, 1.4], [130.3, -13.8, 1.6], [129.8, -15.7, 2.0], [130.4, -17.6, 1.3], [130.1, -19.6, 1.6], [129.5, -21.3, 2.3], [130.8, -22.2, 1.4], [130.2, -10.5, 1.5],
  [131.2, -12.3, 1.8], [130.9, -14.3, 1.4], [131.3, -16.2, 1.7], [131.0, -18.2, 1.4], [131.4, -20.1, 1.5], [131.5, -21.9, 1.5],
  [132.0, -12.7, 1.5], [132.8, -14.1, 1.4], [131.8, -16.6, 1.6], [132.4, -18.6, 1.3], [132.2, -19.0, 1.5], [132.1, -20.5, 1.7],
  [133.2, -13.0, 2.3], [132.9, -15.0, 1.5], [133.3, -17.0, 1.3], [133.0, -18.9, 1.6], [132.8, -25.5, 1.4],
  [134.8, -11.4, 1.4], [134.1, -13.4, 1.7], [134.4, -15.4, 1.4], [133.9, -17.4, 1.5], [134.2, -19.7, 1.4], [134.8, -25.1, 1.3],
  [135.2, -11.6, 1.3], [135.0, -13.8, 1.5], [134.8, -14.7, 1.6], [135.3, -16.0, 1.3], [135.0, -18.1, 1.6], [135.4, -20.0, 1.4],
  [136.0, -12.0, 1.4], [136.3, -14.2, 1.3], [136.8, -15.4, 1.6], [136.1, -18.4, 1.4],
  [137.4, -12.0, 1.5], [137.0, -13.0, 2.8], [137.4, -15.6, 1.4], [137.2, -17.5, 1.3], [137.4, -19.0, 1.4],
  [138.1, -12.3, 1.4], [138.7, -13.6, 2.9], [138.3, -16.0, 1.5], [138.0, -18.0, 1.4], [138.1, -21.0, 1.4],
  [139.4, -12.5, 1.3], [139.4, -13.6, 2.7], [139.0, -15.8, 1.4], [139.3, -17.0, 1.6],
  [140.0, -12.3, 1.4], [140.3, -14.5, 1.5], [140.7, -16.5, 2.6], [140.1, -17.9, 1.4],
  [141.4, -16.3, 1.5], [141.0, -13.0, 1.4], [141.2, -18.5, 1.3],
  [142.7, -17.7, 1.4], [142.2, -15.6, 1.5],
  [144.0, -17.7, 2.6], [143.4, -18.8, 1.4],
  [145.3, -19.2, 1.4], [145.0, -17.9, 1.5],
  [146.0, -19.5, 1.4], [146.7, -18.0, 1.4],
  [105.0, -12.7, 5.9], [108.4, -13.4, 5.8], [111.0, -14.5, 5.7], [110.0, -19.0, 5.6], [113.0, -18.1, 4.9],
];

const tailFill = [
  [111.6, -7.8, 3.2], [111.6, -9.6, 2.9], [111.7, -11.3, 3.3], [111.5, -13.0, 2.8], [111.7, -15.0, 3.1], [111.6, -16.7, 2.9], [111.7, -18.6, 3.3],
  [112.6, -8.3, 3.0], [112.7, -10.1, 3.3], [112.5, -11.9, 2.9], [112.7, -13.7, 3.2], [112.6, -15.5, 2.8], [112.7, -17.3, 3.1], [112.6, -19.2, 2.9],
  [113.6, -8.6, 3.3], [113.7, -10.6, 2.8], [113.5, -12.4, 3.1], [113.7, -14.2, 2.7], [113.6, -16.0, 3.3], [113.7, -17.9, 2.9], [113.6, -20.0, 3.1],
  [114.6, -9.0, 2.7], [114.7, -11.0, 3.2], [114.5, -12.8, 2.8], [114.7, -14.6, 3.3], [114.6, -16.5, 2.6], [114.7, -18.3, 3.0],
  [115.6, -9.1, 3.3], [115.7, -11.2, 2.6], [115.5, -13.0, 3.1], [115.7, -14.9, 2.5], [115.6, -16.9, 3.0], [115.7, -18.8, 2.7],
  [116.6, -9.0, 2.8], [116.7, -10.8, 3.1], [116.5, -12.7, 2.5], [116.7, -14.5, 3.0], [116.6, -16.2, 2.4], [116.7, -18.0, 2.9], [116.6, -19.7, 2.5],
  [117.6, -9.3, 3.1], [117.7, -11.1, 2.5], [117.5, -12.9, 3.0], [117.7, -14.7, 2.3], [117.6, -16.5, 2.8], [117.7, -17.8, 2.4], [117.6, -20.3, 2.6],
  [118.6, -9.6, 2.6], [118.7, -11.5, 3.0], [118.5, -13.3, 2.3], [118.7, -15.1, 2.7], [118.6, -16.9, 2.2], [118.7, -18.8, 2.6], [118.6, -20.6, 2.1],
  [119.6, -10.1, 2.9], [119.7, -11.9, 2.3], [119.5, -13.7, 2.7], [119.7, -15.5, 2.1], [119.6, -17.3, 2.6], [119.7, -19.3, 1.9], [119.6, -21.3, 2.4],
  [120.6, -10.5, 2.3], [120.7, -12.3, 2.7], [120.5, -14.1, 2.0], [120.7, -15.9, 2.5], [120.6, -17.7, 1.9], [120.7, -19.6, 2.4],
  [121.6, -10.8, 2.6], [121.7, -12.6, 2.1], [121.5, -14.4, 2.5], [121.7, -16.2, 1.8], [121.6, -18.0, 2.3], [121.7, -19.9, 1.7], [121.6, -22.0, 1.5],
  [122.6, -11.3, 2.1], [122.7, -13.1, 2.5], [122.5, -14.9, 1.8], [122.7, -16.7, 2.3], [122.6, -18.6, 1.7], [122.7, -20.4, 2.1],
  [123.6, -11.6, 2.4], [123.7, -13.5, 1.7], [123.5, -15.3, 2.3], [123.7, -17.1, 1.6], [123.6, -19.0, 2.1], [123.7, -21.0, 1.5],
  [124.6, -11.9, 1.8], [124.7, -13.8, 2.3], [124.5, -15.6, 1.5], [124.7, -17.5, 2.0], [124.6, -19.3, 1.5], [124.7, -21.1, 1.7],
  [125.6, -12.0, 2.1], [125.7, -13.9, 1.6], [125.5, -15.8, 2.2], [125.7, -17.7, 1.5], [125.6, -19.6, 1.9],
  [126.6, -12.4, 1.7], [126.7, -14.3, 2.1], [126.5, -16.2, 1.5], [126.7, -18.1, 1.9], [126.6, -20.0, 1.5],
  [127.6, -12.6, 2.0], [127.7, -14.5, 1.5], [127.5, -16.4, 1.9],
];

const X_MIN = -3.8;
const X_MAX = 154;
const Y_MIN = -27.9;
const Y_MAX = 21.5;
const LAI_MIN = 0.735;
const LAI_MAX = 6;

const FONT = "'Liberation Serif', 'Times New Roman', serif";

export default function App() {
  const ref = useRef<HTMLDivElement>(null);

  useEffect(() => {
    document.body.style.margin = '0';
    if (!ref.current) return;
    const chart = echarts.init(ref.current, null, { renderer: 'svg' });

    const points = [
      ...earlyBlue, ...earlyFill, ...rising, ...risingFill,
      ...peak, ...peakFill, ...decline, ...declineFill, ...tail, ...tailFill,
    ];
    const hist = histCenters.map((c, i) => [c, histCounts[i]]);

    const stops: { offset: number; color: string }[] = [];
    for (let k = 6; k >= 1; k--) {
      stops.push({ offset: (LAI_MAX - k) / (LAI_MAX - LAI_MIN), color: laiColors[k] });
    }
    stops.push({ offset: 1, color: '#23b6f8' });

    const axisGray = '#8c8c8c';
    const labelStyle = {
      fontFamily: FONT,
      fontWeight: 'bold' as const,
      fontSize: 16,
      color: '#333',
    };
    const fmt = (v: number) => (v < 0 ? '\u2212' + Math.abs(v) : String(v));

    chart.setOption({
      animation: false,
      backgroundColor: '#ffffff',
      textStyle: { fontFamily: FONT },
      grid: [
        { left: 68, top: 10, width: 399, height: 366 },
        { left: 491, top: 10, width: 5, height: 366 },
      ],
      xAxis: [
        {
          type: 'value',
          gridIndex: 0,
          min: X_MIN,
          max: X_MAX,
          axisLine: { show: true, onZero: false, lineStyle: { color: axisGray, width: 1.6 } },
          axisTick: { show: true, length: 5, customValues: xTicks, lineStyle: { color: axisGray, width: 1.3 } },
          axisLabel: { ...labelStyle, customValues: xTicks, margin: 8, formatter: fmt },
          splitLine: { show: false },
        },
        { type: 'value', gridIndex: 1, min: 0, max: 1, show: false },
      ],
      yAxis: [
        {
          type: 'value',
          gridIndex: 0,
          min: Y_MIN,
          max: Y_MAX,
          axisLine: { show: true, onZero: false, lineStyle: { color: axisGray, width: 1.6 } },
          axisTick: { show: true, length: 5, customValues: yTicks, lineStyle: { color: axisGray, width: 1.3 } },
          axisLabel: { ...labelStyle, customValues: yTicks, margin: 9, formatter: fmt },
          splitLine: { show: false },
        },
        { type: 'value', gridIndex: 0, min: 0, max: 1830, show: false },
        {
          type: 'value',
          gridIndex: 1,
          position: 'right',
          min: LAI_MIN,
          max: LAI_MAX,
          axisLine: { show: false, onZero: false },
          axisTick: { show: true, length: 4, customValues: laiTicks, lineStyle: { color: '#333', width: 1.2 } },
          axisLabel: { ...labelStyle, color: '#222', customValues: laiTicks, margin: 9 },
          splitLine: { show: false },
        },
      ],
      visualMap: {
        type: 'continuous',
        show: false,
        min: 0,
        max: 6,
        dimension: 2,
        seriesIndex: 2,
        inRange: { color: laiColors },
      },
      series: [
        {
          type: 'line',
          xAxisIndex: 0,
          yAxisIndex: 1,
          data: hist,
          step: 'middle',
          symbol: 'none',
          silent: true,
          lineStyle: { width: 0 },
          areaStyle: { color: '#e2e2e2', opacity: 1 },
          z: 1,
        },
        {
          type: 'line',
          xAxisIndex: 0,
          yAxisIndex: 0,
          data: [[X_MIN, 0], [X_MAX, 0]],
          symbol: 'none',
          silent: true,
          lineStyle: { color: '#c4c4c4', width: 1.2, type: [1.5, 3] },
          z: 2,
        },
        {
          type: 'scatter',
          xAxisIndex: 0,
          yAxisIndex: 0,
          data: points,
          symbolSize: 6,
          itemStyle: { opacity: 1 },
          z: 3,
        },
      ],
      graphic: [
        {
          type: 'rect',
          shape: { x: 491, y: 10, width: 5, height: 366 },
          style: { fill: new echarts.graphic.LinearGradient(0, 0, 0, 1, stops) },
          silent: true,
        },
        {
          type: 'text',
          x: 18,
          y: 190,
          rotation: Math.PI / 2,
          scaleX: 0.86,
          style: {
            text: 'SHAP Value',
            fontFamily: FONT,
            fontWeight: 'bold',
            fontSize: 20,
            fill: '#111',
            align: 'center',
            verticalAlign: 'middle',
          },
        },
        {
          type: 'text',
          x: 269,
          y: 413,
          style: {
            text: 'Leaf age',
            fontFamily: FONT,
            fontWeight: 'bold',
            fontSize: 20,
            fill: '#111',
            align: 'center',
            verticalAlign: 'middle',
          },
        },
        {
          type: 'text',
          x: 536,
          y: 187,
          rotation: Math.PI / 2,
          style: {
            text: 'LAI (m\u00b2 m\u207b\u00b2)',
            fontFamily: FONT,
            fontWeight: 'bold',
            fontSize: 17,
            fill: '#111',
            align: 'center',
            verticalAlign: 'middle',
          },
        },
      ],
    });

    return () => chart.dispose();
  }, []);

  return <div ref={ref} style={{ width: 550, height: 429 }} />;
}
